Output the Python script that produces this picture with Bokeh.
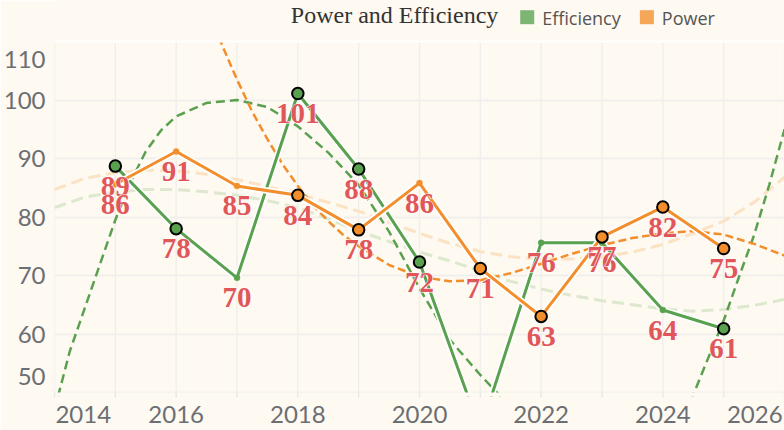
from bokeh.plotting import figure
from bokeh.models import ColumnDataSource, FixedTicker, Span, BoxAnnotation
from bokeh.core.properties import value
from bokeh.embed import file_html
from bokeh.resources import INLINE

# ---------------- data ----------------
years = [2015, 2016, 2017, 2018, 2019, 2020, 2021, 2022, 2023, 2024, 2025]
efficiency = [88.7, 78.0, 69.6, 101.1, 88.2, 72.3, 43.5, 75.6, 75.6, 64.1, 60.9]
power = [85.6, 91.2, 85.3, 83.7, 77.8, 85.8, 71.2, 63.0, 76.6, 81.7, 74.6]
eff_marked = [2015, 2016, 2018, 2019, 2020, 2021, 2025]
pow_marked = [2018, 2019, 2021, 2022, 2023, 2024, 2025]

# trend curves
eff_trend_x = [2014.0, 2014.25, 2014.5, 2014.75, 2015.0, 2015.25, 2015.5, 2015.75, 2016.0,
               2016.5, 2017.0, 2017.5, 2018.0, 2018.5, 2019.0, 2019.5, 2020.0, 2020.5,
               2021.0, 2021.5, 2022.0, 2022.5, 2023.0, 2023.5, 2024.0, 2024.25, 2024.5,
               2024.75, 2025.0, 2025.25, 2025.5, 2025.75, 2026.0]
eff_trend = [47.0, 57.0, 64.5, 72.0, 79.5, 86.0, 91.2, 94.8, 97.2,
             99.5, 100.0, 98.8, 95.5, 91.0, 85.5, 77.5, 67.8, 59.0,
             53.0, 47.5, 42.5, 38.5, 36.0, 35.5, 40.0, 44.5, 49.6,
             56.0, 62.3, 69.7, 76.9, 85.5, 95.0]
pow_trend_x = [2016.5, 2016.75, 2017.0, 2017.25, 2017.5, 2017.75, 2018.0, 2018.25, 2018.5,
               2018.75, 2019.0, 2019.5, 2020.0, 2020.5, 2021.0, 2021.5, 2022.0, 2022.5,
               2023.0, 2023.5, 2024.0, 2024.5, 2025.0, 2025.5, 2026.0]
pow_trend = [116.5, 109.5, 103.5, 98.0, 93.3, 89.0, 85.3, 82.0, 79.3,
             76.9, 75.0, 71.8, 69.8, 69.0, 69.2, 70.4, 72.0, 73.7,
             75.2, 76.4, 77.2, 77.6, 77.0, 75.4, 73.4]
soft_x = [2014.0, 2014.5, 2015.0, 2015.5, 2016.0, 2016.5, 2017.0, 2017.5, 2018.0, 2018.5,
          2019.0, 2019.5, 2020.0, 2020.5, 2021.0, 2021.5, 2022.0, 2022.5, 2023.0, 2023.5,
          2024.0, 2024.5, 2025.0, 2025.5, 2026.0]
pow_soft = [84.7, 86.6, 87.6, 88.0, 87.9, 87.3, 86.4, 85.2, 83.9, 82.5,
            81.0, 79.1, 77.2, 75.5, 74.1, 73.2, 72.8, 72.8, 73.2, 74.0,
            75.3, 77.2, 79.3, 82.5, 86.8]
eff_soft = [81.6, 83.4, 84.3, 84.7, 84.7, 84.3, 83.7, 82.8, 81.6, 79.7,
            77.6, 75.8, 74.0, 72.5, 70.8, 69.0, 67.7, 66.6, 65.7, 65.0,
            64.3, 63.9, 64.2, 64.9, 65.9]

x_ticks = [2014, 2016, 2018, 2020, 2022, 2024, 2026]
y_ticks = [50, 60, 70, 80, 90, 100, 110]
x_grid = list(range(2014, 2027))
series_names = ["Efficiency", "Power"]
title_text = "Power and Efficiency"

# ---------------- style / layout ----------------
BG = "#FEF9F1"
GREEN = "#59A14F"
ORANGE = "#F28E2B"
RED = "#E15759"
TICK = "#6B6E73"
GRID = "#EEEEEC"
TICK_FONT = "Lato"
TICK_SIZE = 24

W, H = 784, 430
LEFT, BOTTOM = 52, 34
X0, X1 = 2014, 2026
Y0, Y1 = 50, 110
PLOT_TOP = 41          # pixel row of the 110 line
PLOT_BOT = 392         # pixel row of the 50 line
ppx = (W - LEFT) / (X1 - X0)
ppy = (PLOT_BOT - PLOT_TOP) / (Y1 - Y0)
frame_bot = H - BOTTOM
y_lo = Y0 - (frame_bot - PLOT_BOT) / ppy
y_hi = Y1 + PLOT_TOP / ppy

def px_x(px):
    return X0 + (px - LEFT) / ppx

def px_y(py):
    return Y1 + (PLOT_TOP - py) / ppy

p = figure(width=W, height=H, x_range=(X0, X1), y_range=(y_lo, y_hi),
           title=None, toolbar_location=None, output_backend="svg",
           min_border_left=LEFT, min_border_right=0,
           min_border_top=0, min_border_bottom=BOTTOM,
           background_fill_color=BG, border_fill_color=BG)
p.outline_line_color = None
p.xgrid.visible = False
p.ygrid.ticker = FixedTicker(ticks=y_ticks)
p.ygrid.grid_line_color = GRID
p.ygrid.grid_line_width = 1.3

# vertical grid lines limited to the plotting band
p.segment(x0=x_grid, y0=Y0, x1=x_grid, y1=Y1, line_color=GRID, line_width=1.3)

# axes: edge labels are nudged inside the band like the reference
lab_w = 4 * 0.58 * TICK_SIZE
x_pos, x_over = [], {}
for t in x_ticks:
    pos = t
    if t == X0:
        pos = t + (lab_w / 2 + 1) / ppx
    elif t == X1:
        pos = t - (lab_w / 2 + 2) / ppx
    x_pos.append(pos)
    x_over[pos] = str(t)
y_pos, y_over = [], {}
for t in y_ticks:
    pos = t
    if t == Y1:
        pos = t - 18 / ppy
    elif t == Y0:
        pos = t + 16.5 / ppy
    y_pos.append(pos)
    y_over[pos] = str(t)

p.xaxis.ticker = FixedTicker(ticks=x_pos)
p.xaxis.major_label_overrides = x_over
p.yaxis.ticker = FixedTicker(ticks=y_pos)
p.yaxis.major_label_overrides = y_over
for ax in (p.xaxis, p.yaxis):
    ax.axis_line_color = None
    ax.major_tick_line_color = None
    ax.minor_tick_line_color = None
    ax.major_tick_out = 0
    ax.major_tick_in = 0
    ax.minor_tick_out = 0
    ax.minor_tick_in = 0
    ax.major_label_text_font = TICK_FONT
    ax.major_label_text_font_size = "%dpx" % TICK_SIZE
    ax.major_label_text_color = TICK
p.xaxis.major_label_text_line_height = 0.8
p.xaxis.major_label_standoff = 9
p.yaxis.major_label_standoff = 9

# faint trends
p.line(soft_x, pow_soft, line_color="#FBE2C3", line_width=3, line_dash="12 6")
p.line(soft_x, eff_soft, line_color="#DDE8CE", line_width=3, line_dash="12 6")
# strong trends
p.line(eff_trend_x, eff_trend, line_color=GREEN, line_width=2.5, line_dash="9 5")
p.line(pow_trend_x, pow_trend, line_color=ORANGE, line_width=2.5, line_dash="8 4")

# series lines with white casing
for vals, col in ((efficiency, GREEN), (power, ORANGE)):
    p.line(years, vals, line_color="white", line_width=6.5)
    p.line(years, vals, line_color=col, line_width=3)

# markers
for vals, marked, col in ((efficiency, eff_marked, GREEN), (power, pow_marked, ORANGE)):
    big = ColumnDataSource(dict(x=[y for y in years if y in marked],
                                y=[v for y, v in zip(years, vals) if y in marked]))
    small = ColumnDataSource(dict(x=[y for y in years if y not in marked],
                                  y=[v for y, v in zip(years, vals) if y not in marked]))
    p.scatter("x", "y", source=small, size=6, fill_color=col, line_color=col, line_width=0.5)
    p.scatter("x", "y", source=big, size=11.5, fill_color=col, line_color="black", line_width=2)

# data labels (only for points inside the plotted band): white halo, then red text
for vals in (efficiency, power):
    keep = [i for i, v in enumerate(vals) if Y0 <= v <= Y1]
    src = ColumnDataSource(dict(x=[years[i] for i in keep], y=[vals[i] for i in keep],
                                t=["%d" % int(vals[i] + 0.5) for i in keep]))
    common = dict(source=src, y_offset=20, text_font=value("Liberation Serif"),
                  text_font_style="bold", text_font_size="29px",
                  text_align="center", text_baseline="middle")
    p.text("x", "y", text="t", text_color="white", text_outline_color="white", **common)
    p.text("x", "y", text="t", text_color=RED, **common)

# hide whatever leaves the 50..110 band
p.add_layout(BoxAnnotation(left=X0, right=X1, top=Y0, bottom=y_lo - 5,
                           fill_color=BG, fill_alpha=1, line_color=None))
p.add_layout(BoxAnnotation(left=X0, right=X1, top=y_hi + 5, bottom=Y1,
                           fill_color=BG, fill_alpha=1, line_color=None))
p.add_layout(Span(location=Y1, dimension="width", line_color="white", line_width=2))
p.segment(x0=x_grid, y0=Y0, x1=x_grid, y1=Y0 - 5 / ppy, line_color="#E6E6E4",
          line_width=1.3, level="overlay")

# title and legend in the header band
p.text(x=[px_x(289)], y=[px_y(14.5)], text=[title_text], text_font=value("Liberation Serif"),
       text_font_size="24px", text_color="#333333", text_align="left",
       text_baseline="middle", level="overlay")
leg = ColumnDataSource(dict(sx=[px_x(526), px_x(646)], tx=[px_x(541), px_x(661)],
                            sy=[px_y(16.7)] * 2, ty=[px_y(17.5)] * 2,
                            name=series_names, color=[GREEN, ORANGE]))
p.scatter("sx", "sy", source=leg, marker="square", size=14, fill_color="color",
          fill_alpha=0.78, line_color=None, level="overlay")
p.text("tx", "ty", text="name", source=leg, text_font=value("Open Sans"),
       text_font_size="18px", text_color="#555555", text_align="left",
       text_baseline="middle", level="overlay")

open("out.html", "w").write(file_html(p, INLINE))
